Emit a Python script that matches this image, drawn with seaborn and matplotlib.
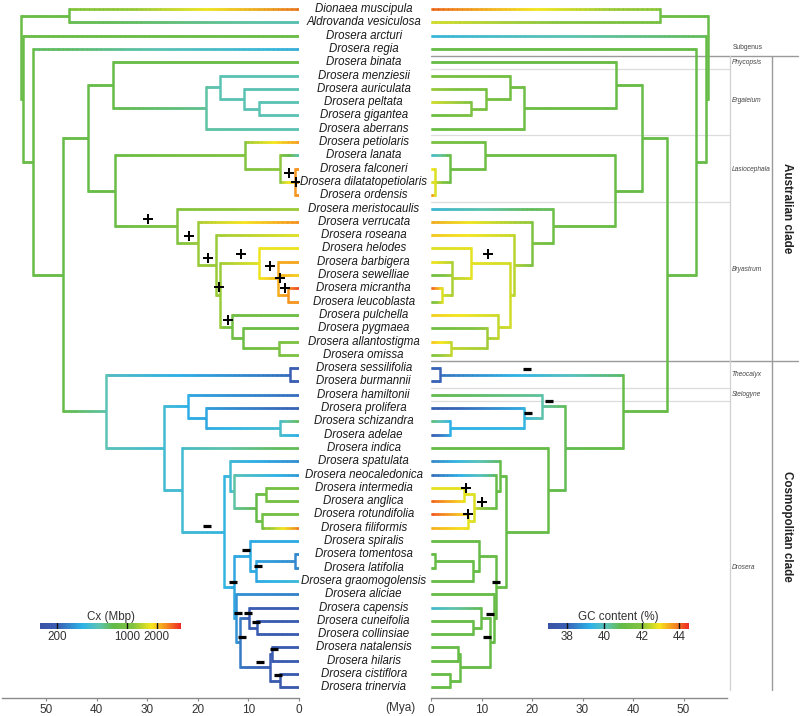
import numpy as np
import matplotlib
matplotlib.use('Agg')
import matplotlib.pyplot as plt
from matplotlib.collections import LineCollection
from matplotlib.colors import LinearSegmentedColormap
from matplotlib.ticker import NullLocator
import seaborn as sns

# ---------------------------------------------------------------- data
TIPS = ["Dionaea muscipula", "Aldrovanda vesiculosa", "Drosera arcturi", "Drosera regia",
        "Drosera binata", "Drosera menziesii", "Drosera auriculata", "Drosera peltata",
        "Drosera gigantea", "Drosera aberrans", "Drosera petiolaris", "Drosera lanata",
        "Drosera falconeri", "Drosera dilatatopetiolaris", "Drosera ordensis",
        "Drosera meristocaulis", "Drosera verrucata", "Drosera roseana", "Drosera helodes",
        "Drosera barbigera", "Drosera sewelliae", "Drosera micrantha", "Drosera leucoblasta",
        "Drosera pulchella", "Drosera pygmaea", "Drosera allantostigma", "Drosera omissa",
        "Drosera sessilifolia", "Drosera burmannii", "Drosera hamiltonii", "Drosera prolifera",
        "Drosera schizandra", "Drosera adelae", "Drosera indica", "Drosera spatulata",
        "Drosera neocaledonica", "Drosera intermedia", "Drosera anglica", "Drosera rotundifolia",
        "Drosera filiformis", "Drosera spiralis", "Drosera tomentosa", "Drosera latifolia",
        "Drosera graomogolensis", "Drosera aliciae", "Drosera capensis", "Drosera cuneifolia",
        "Drosera collinsiae", "Drosera natalensis", "Drosera hilaris", "Drosera cistiflora",
        "Drosera trinervia"]

# internal nodes: children are tip rows (int) or node names
NODE_NAMES = ['root', 'DA', 'N2', 'N3', 'N4', 'AUS', 'PE', 'ERG', 'M1', 'M2', 'M3',
              'LB', 'LAS', 'L2', 'L3', 'BRY', 'V', 'X', 'Y', 'H', 'B1', 'ML', 'P', 'Q', 'AO',
              'COS', 'SB', 'C2', 'HP', 'PSA', 'SA', 'C3', 'C4', 'C5', 'C5b', 'ROT', 'IA', 'RF',
              'C6', 'SPG', 'TLG', 'TL', 'C7', 'C8', 'CCC', 'CC', 'NHCT', 'NH', 'CT']
NODE_AGES = [54.9, 45.4, 54.5, 52.5, 46.7, 41.8, 36.7, 18.4, 15.7, 10.8, 7.9,
             36.4, 10.7, 3.8, 0.7, 24.2, 20.0, 16.5, 15.7, 8.0, 4.1, 2.2, 13.2, 11.0, 3.9,
             38.1, 1.7, 26.6, 21.9, 18.4, 3.7, 23.1, 14.8, 13.6, 12.9, 8.5, 6.6, 7.3,
             12.8, 9.6, 8.4, 0.7, 12.4, 11.6, 9.9, 8.3, 5.7, 5.3, 3.8]
NODE_CHILDREN = [['DA', 'N2'], [0, 1], [2, 'N3'], [3, 'N4'], ['AUS', 'COS'], ['PE', 'LB'],
                 [4, 'ERG'], ['M1', 9], [5, 'M2'], [6, 'M3'], [7, 8],
                 ['LAS', 'BRY'], [10, 'L2'], [11, 'L3'], [12, 13, 14], [15, 'V'], [16, 'X'],
                 [17, 'Y'], ['H', 'P'], [18, 'B1'], [19, 20, 'ML'], [21, 22], [23, 'Q'],
                 [24, 'AO'], [25, 26],
                 ['SB', 'C2'], [27, 28], ['HP', 'C3'], [29, 'PSA'], [30, 'SA'], [31, 32],
                 [33, 'C4'], ['C5', 'C6'], [34, 'C5b'], [35, 'ROT'], ['IA', 'RF'], [36, 37],
                 [38, 39], ['SPG', 'C7'], [40, 'TLG'], ['TL', 43], [41, 42], [44, 'C8'],
                 ['CCC', 'NHCT'], [45, 'CC'], [46, 47], ['NH', 'CT'], [48, 49], [50, 51]]

# genome size Cx (Mbp)
TIP_CX = [3000, 480, 800, 330, 800, 520, 520, 520, 520, 520, 2600, 450, 2500, 2500, 2500,
          1300, 2700, 1700, 1700, 2300, 1900, 3300, 2400, 850, 800, 1100, 1100,
          200, 200, 210, 190, 750, 330, 800, 260, 280, 1000, 950, 1000, 3000,
          340, 270, 270, 420, 250, 200, 190, 190, 185, 190, 175, 175]
NODE_CX = [800, 800, 800, 800, 780, 760, 760, 560, 520, 520, 520,
           800, 1150, 1200, 2400, 1150, 1250, 1250, 1250, 1700, 2200, 2400, 900, 850, 1050,
           520, 200, 420, 350, 330, 450, 420, 380, 420, 550, 750, 950, 900,
           330, 340, 330, 270, 290, 240, 200, 190, 190, 185, 175]

# GC content (%)
TIP_GC = [44.3, 42.8, 39.3, 41.0, 41.0, 41.7, 42.2, 42.7, 41.2, 41.2, 41.8, 39.5, 43.0, 42.7,
          44.0, 39.3, 43.6, 43.3, 42.7, 43.0, 41.3, 44.3, 41.5, 43.2, 41.2, 43.3, 41.8,
          38.0, 38.0, 41.0, 37.4, 40.8, 37.6, 41.0, 38.3, 37.8, 42.8, 44.2, 44.3, 43.5,
          41.0, 41.0, 41.0, 41.0, 41.0, 39.5, 41.0, 41.0, 41.0, 41.0, 41.0, 41.0]
NODE_GC = [41.0, 41.3, 41.0, 41.0, 41.0, 41.0, 41.1, 41.3, 41.4, 41.6, 41.8,
           41.1, 41.3, 41.2, 42.7, 41.3, 41.8, 42.4, 42.6, 42.8, 42.3, 42.7, 42.5, 42.2, 42.5,
           41.0, 38.0, 40.8, 40.2, 39.4, 39.2, 41.0, 41.0, 41.0, 41.0, 42.7, 42.8, 42.8,
           41.0, 41.0, 41.0, 41.0, 41.0, 41.0, 41.0, 41.0, 41.0, 41.0, 41.0]

# +/- change markers: (age in Mya, row position)
PLUS_CX_AGE = [29.8, 21.7, 17.9, 11.5, 15.75, 5.7, 3.75, 2.8, 14.1, 1.9, 0.6]
PLUS_CX_ROW = [15.8, 17.1, 18.7, 18.4, 20.9, 19.3, 20.25, 21.0, 23.4, 12.3, 13.0]
MINUS_CX_AGE = [18.2, 10.5, 8.2, 13.1, 12.0, 10.0, 8.4, 11.2, 4.9, 7.8, 4.1]
MINUS_CX_ROW = [38.9, 40.7, 41.9, 43.1, 45.4, 45.4, 46.1, 47.2, 48.1, 49.1, 50.1]
PLUS_GC_AGE = [11.35, 7.0, 10.0, 7.3]
PLUS_GC_ROW = [18.4, 36.0, 37.1, 38.0]
MINUS_GC_AGE = [19.0, 23.4, 19.2, 12.9, 11.7, 11.1]
MINUS_GC_ROW = [27.1, 29.5, 30.35, 43.1, 45.5, 47.2]

SUBGENERA = ['Phycopsis', 'Ergaleium', 'Lasiocephala', 'Bryastrum', 'Theocalyx',
             'Stelogyne', 'Drosera']
SUBGENUS_ROW = [4.0, 6.85, 12.1, 19.6, 27.5, 29.0, 42.0]
SUBGENUS_BREAKS = [4.5, 9.5, 14.5, 28.5, 29.5]
CLADE_BREAKS = [3.5, 26.5]
CLADES = ['Australian clade', 'Cosmopolitan clade']
CLADE_ROW = [15.0, 38.9]

CX_LIM = (135, 3500)
CX_TICKS = [200, 1000, 2000]
GC_LIM = (37.0, 44.5)
GC_TICKS = [38, 40, 42, 44]
AGE_TICKS = [0, 10, 20, 30, 40, 50]

# ---------------------------------------------------------------- style
sns.set_theme(style='white')
plt.rcParams['font.family'] = ['Liberation Sans', 'DejaVu Sans']

CMAP = LinearSegmentedColormap.from_list('cx', [
    (0.0, '#3953A4'), (0.12, '#3B5EB3'), (0.30, '#2DB3E8'), (0.42, '#5EC3B2'),
    (0.52, '#63BB47'), (0.66, '#82C341'), (0.79, '#F6E71C'), (0.90, '#F58B22'),
    (1.0, '#EE2A24')])
LW = 1.8

W, H = 800, 716
fig = plt.figure(figsize=(W / 100, H / 100), dpi=100)

Y_TOP, Y_BOT = -0.677, 51.8
AX_B, AX_H = 18 / H, 698 / H
ax_l = fig.add_axes([2 / W, AX_B, 297 / W, AX_H])
ax_m = fig.add_axes([299 / W, AX_B, 132 / W, AX_H])
ax_r = fig.add_axes([431 / W, AX_B, 296 / W, AX_H])
ax_l.set_xlim(58.7, 0)
ax_r.set_xlim(0, 58.6)
ax_m.set_xlim(0, 1)
for ax in (ax_l, ax_m, ax_r):
    ax.set_ylim(Y_BOT, Y_TOP)
    ax.patch.set_alpha(0)
ax_m.axis('off')

name_idx = {n: i for i, n in enumerate(NODE_NAMES)}


def node_y(key):
    if isinstance(key, int):
        return float(key)
    ch = NODE_CHILDREN[name_idx[key]]
    return (node_y(ch[0]) + node_y(ch[-1])) / 2


def cx_norm(v):
    return (np.log10(v) - np.log10(CX_LIM[0])) / (np.log10(CX_LIM[1]) - np.log10(CX_LIM[0]))


def gc_norm(v):
    return (np.asarray(v) - GC_LIM[0]) / (GC_LIM[1] - GC_LIM[0])


def draw_tree(ax, tip_vals, node_vals, norm):
    base, bcols, hsegs, hcols, vsegs, vcols = [], [], [], [], [], []
    for i, name in enumerate(NODE_NAMES):
        age_p = NODE_AGES[i]
        vp = norm(node_vals[i])
        ys = [node_y(c) for c in NODE_CHILDREN[i]]
        vsegs.append([(age_p, min(ys)), (age_p, max(ys))])
        vcols.append(CMAP(vp))
        for c, yc in zip(NODE_CHILDREN[i], ys):
            if isinstance(c, int):
                age_c, vc = 0.0, norm(tip_vals[c])
            else:
                age_c, vc = NODE_AGES[name_idx[c]], norm(node_vals[name_idx[c]])
            # solid underlay hides the tiny seams between gradient pieces
            base.append([(age_p, yc), (age_c, yc)])
            bcols.append(CMAP((vp + vc) / 2))
            n = max(int((age_p - age_c) / 0.25), 2)
            xs = np.linspace(age_p, age_c, n + 1)
            tm = (np.arange(n) + 0.5) / n
            for k in range(n):
                hsegs.append([(xs[k], yc), (xs[k + 1], yc)])
                hcols.append(CMAP(vp + (vc - vp) * tm[k]))
    ax.add_collection(LineCollection(base, colors=bcols, linewidths=LW,
                                     capstyle='butt', zorder=2))
    ax.add_collection(LineCollection(hsegs, colors=hcols, linewidths=LW,
                                     capstyle='butt', zorder=3))
    ax.add_collection(LineCollection(vsegs, colors=vcols, linewidths=LW,
                                     capstyle='projecting', zorder=3))


draw_tree(ax_l, TIP_CX, NODE_CX, cx_norm)
draw_tree(ax_r, TIP_GC, NODE_GC, gc_norm)

# change markers
for ax, pa, pr, ma, mr in ((ax_l, PLUS_CX_AGE, PLUS_CX_ROW, MINUS_CX_AGE, MINUS_CX_ROW),
                           (ax_r, PLUS_GC_AGE, PLUS_GC_ROW, MINUS_GC_AGE, MINUS_GC_ROW)):
    sns.scatterplot(x=pa, y=pr, marker='+', s=48, color='black', linewidth=1.45,
                    ax=ax, zorder=5, legend=False)
    sns.scatterplot(x=ma, y=mr, marker='_', s=30, color='black', linewidth=2.3,
                    ax=ax, zorder=5, legend=False)

# species names
for r, name in enumerate(TIPS):
    ax_m.text(0.49, r, name, ha='center', va='center', fontsize=8.3, style='italic',
              color='#1a1a1a')

# axes styling
for ax in (ax_l, ax_r):
    for s in ('left', 'right', 'top'):
        ax.spines[s].set_visible(False)
    ax.spines['bottom'].set_color('#8a8a8a')
    ax.spines['bottom'].set_linewidth(1.0)
    ax.set_yticks([])
    ax.set_xticks(AGE_TICKS)
    ax.tick_params(axis='x', direction='out', length=2.5, width=0.8, color='#8a8a8a',
                   pad=1.5, labelsize=8.5, labelcolor='#333333', bottom=True)
    ax.set_xlabel('')
fig.text(400 / W, 1 - 708 / H, '(Mya)', ha='center', va='center', fontsize=8.5,
         color='#333333')

# subgenus / clade annotation (right side, in right-axis age units)
X_END = (798 - 431) / 5.05
X_SUB = (729.5 - 431) / 5.05
X_CLADE = (771.7 - 431) / 5.05
Y_END = (690 - 9) / 13.3
for yb in CLADE_BREAKS:
    ax_r.plot([0, X_END], [yb, yb], color='#9a9a9a', lw=1.0, clip_on=False, zorder=1)
for yb in SUBGENUS_BREAKS:
    ax_r.plot([0, X_SUB], [yb, yb], color='#dcdcdc', lw=0.9, clip_on=False, zorder=1)
ax_r.plot([X_SUB, X_SUB], [CLADE_BREAKS[0], Y_END], color='#d0d0d0', lw=0.9,
          clip_on=False, zorder=1)
ax_r.plot([X_CLADE, X_CLADE], [CLADE_BREAKS[0], Y_END], color='#9a9a9a', lw=1.0,
          clip_on=False, zorder=1)
ax_r.text((748 - 431) / 5.05, 2.9, 'Subgenus', ha='center', va='center', fontsize=4.8,
          color='#444444', clip_on=False)
for lab, yr in zip(SUBGENERA, SUBGENUS_ROW):
    ax_r.text(X_SUB + 0.35, yr, lab, ha='left', va='center', fontsize=4.8, style='italic',
              color='#444444', clip_on=False)
for lab, yr in zip(CLADES, CLADE_ROW):
    ax_r.text((787 - 431) / 5.05, yr, lab, ha='center', va='center', rotation=-90,
              fontsize=8.4, fontweight='bold', color='#222222', clip_on=False)

# colour bars
def colorbar(rect, lo, hi, ticks, title, log):
    cax = fig.add_axes(rect)
    if log:
        edges = np.logspace(np.log10(lo), np.log10(hi), 257)
        vals = cx_norm(np.sqrt(edges[:-1] * edges[1:]))
        cax.set_xscale('log')
    else:
        edges = np.linspace(lo, hi, 257)
        vals = gc_norm((edges[:-1] + edges[1:]) / 2)
    cax.pcolormesh(edges, [0, 1], vals[None, :], cmap=CMAP, vmin=0, vmax=1,
                   shading='flat')
    cax.set_xlim(lo, hi)
    cax.set_ylim(0, 1)
    for t in ticks:
        cax.plot([t, t], [0, 1], color='#111111', lw=1.0)
    cax.set_xticks(ticks)
    cax.set_xticklabels([str(t) for t in ticks])
    cax.xaxis.set_minor_locator(NullLocator())
    cax.set_yticks([])
    cax.tick_params(axis='x', length=0, pad=1.5, labelsize=8.4, labelcolor='#333333')
    for s in cax.spines.values():
        s.set_visible(False)
    cax.set_title(title, fontsize=8.4, pad=2.5, color='#333333')


colorbar([40 / W, (H - 629) / H, 141 / W, 6 / H], CX_LIM[0], CX_LIM[1], CX_TICKS,
         'Cx (Mbp)', True)
colorbar([548.3 / W, (H - 629) / H, 140.4 / W, 6 / H], GC_LIM[0], GC_LIM[1], GC_TICKS,
         'GC content (%)', False)

fig.savefig('out.png', dpi=100)
